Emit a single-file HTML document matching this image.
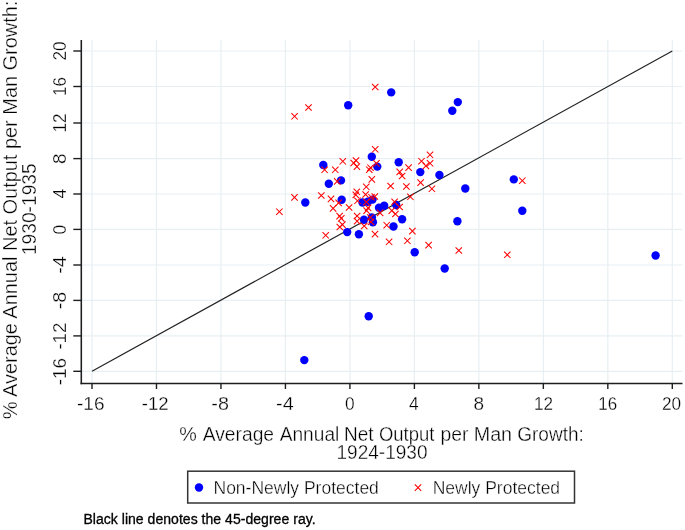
<!DOCTYPE html>
<html><head><meta charset="utf-8"><style>
html,body{margin:0;padding:0;background:#fff;width:685px;height:530px;overflow:hidden}
svg{display:block;font-family:"Liberation Sans",sans-serif;fill:#000;will-change:transform}
text{fill:#000}
.thin text,text.th{stroke:#fff;stroke-width:0.35px}
text.th2{stroke:#fff;stroke-width:0.3px}
</style></head><body>
<svg width="685" height="530" viewBox="0 0 685 530">
<rect width="685" height="530" fill="#ffffff"/>
<line x1="92.00" y1="40.0" x2="92.00" y2="383.4" stroke="#e8eff3" stroke-width="1.2"/>
<line x1="81.3" y1="371.30" x2="682.5" y2="371.30" stroke="#e8eff3" stroke-width="1.2"/>
<line x1="156.48" y1="40.0" x2="156.48" y2="383.4" stroke="#e8eff3" stroke-width="1.2"/>
<line x1="81.3" y1="335.90" x2="682.5" y2="335.90" stroke="#e8eff3" stroke-width="1.2"/>
<line x1="220.96" y1="40.0" x2="220.96" y2="383.4" stroke="#e8eff3" stroke-width="1.2"/>
<line x1="81.3" y1="300.40" x2="682.5" y2="300.40" stroke="#e8eff3" stroke-width="1.2"/>
<line x1="285.43" y1="40.0" x2="285.43" y2="383.4" stroke="#e8eff3" stroke-width="1.2"/>
<line x1="81.3" y1="265.00" x2="682.5" y2="265.00" stroke="#e8eff3" stroke-width="1.2"/>
<line x1="349.91" y1="40.0" x2="349.91" y2="383.4" stroke="#e8eff3" stroke-width="1.2"/>
<line x1="81.3" y1="229.40" x2="682.5" y2="229.40" stroke="#e8eff3" stroke-width="1.2"/>
<line x1="414.39" y1="40.0" x2="414.39" y2="383.4" stroke="#e8eff3" stroke-width="1.2"/>
<line x1="81.3" y1="194.00" x2="682.5" y2="194.00" stroke="#e8eff3" stroke-width="1.2"/>
<line x1="478.87" y1="40.0" x2="478.87" y2="383.4" stroke="#e8eff3" stroke-width="1.2"/>
<line x1="81.3" y1="158.60" x2="682.5" y2="158.60" stroke="#e8eff3" stroke-width="1.2"/>
<line x1="543.34" y1="40.0" x2="543.34" y2="383.4" stroke="#e8eff3" stroke-width="1.2"/>
<line x1="81.3" y1="123.00" x2="682.5" y2="123.00" stroke="#e8eff3" stroke-width="1.2"/>
<line x1="607.82" y1="40.0" x2="607.82" y2="383.4" stroke="#e8eff3" stroke-width="1.2"/>
<line x1="81.3" y1="86.50" x2="682.5" y2="86.50" stroke="#e8eff3" stroke-width="1.2"/>
<line x1="672.30" y1="40.0" x2="672.30" y2="383.4" stroke="#e8eff3" stroke-width="1.2"/>
<line x1="81.3" y1="51.00" x2="682.5" y2="51.00" stroke="#e8eff3" stroke-width="1.2"/>
<line x1="92.00" y1="371.30" x2="672.30" y2="51.00" stroke="#222" stroke-width="1.2"/>
<circle cx="348.2" cy="105.3" r="4.2" fill="#0000ff"/>
<circle cx="391.2" cy="92.4" r="4.2" fill="#0000ff"/>
<circle cx="457.8" cy="102.1" r="4.2" fill="#0000ff"/>
<circle cx="452.3" cy="110.8" r="4.2" fill="#0000ff"/>
<circle cx="323.3" cy="165.0" r="4.2" fill="#0000ff"/>
<circle cx="328.8" cy="183.7" r="4.2" fill="#0000ff"/>
<circle cx="341.0" cy="180.4" r="4.2" fill="#0000ff"/>
<circle cx="371.8" cy="156.7" r="4.2" fill="#0000ff"/>
<circle cx="377.3" cy="166.6" r="4.2" fill="#0000ff"/>
<circle cx="398.7" cy="162.3" r="4.2" fill="#0000ff"/>
<circle cx="420.3" cy="172.1" r="4.2" fill="#0000ff"/>
<circle cx="439.4" cy="175.0" r="4.2" fill="#0000ff"/>
<circle cx="465.3" cy="188.5" r="4.2" fill="#0000ff"/>
<circle cx="513.8" cy="179.4" r="4.2" fill="#0000ff"/>
<circle cx="522.3" cy="210.7" r="4.2" fill="#0000ff"/>
<circle cx="305.3" cy="202.5" r="4.2" fill="#0000ff"/>
<circle cx="341.7" cy="199.8" r="4.2" fill="#0000ff"/>
<circle cx="362.5" cy="202.5" r="4.2" fill="#0000ff"/>
<circle cx="367.8" cy="201.8" r="4.2" fill="#0000ff"/>
<circle cx="372.5" cy="199.6" r="4.2" fill="#0000ff"/>
<circle cx="379.0" cy="207.8" r="4.2" fill="#0000ff"/>
<circle cx="384.2" cy="205.8" r="4.2" fill="#0000ff"/>
<circle cx="396.2" cy="205.0" r="4.2" fill="#0000ff"/>
<circle cx="364.0" cy="219.8" r="4.2" fill="#0000ff"/>
<circle cx="371.9" cy="217.5" r="4.2" fill="#0000ff"/>
<circle cx="372.9" cy="222.2" r="4.2" fill="#0000ff"/>
<circle cx="393.5" cy="226.5" r="4.2" fill="#0000ff"/>
<circle cx="402.1" cy="219.2" r="4.2" fill="#0000ff"/>
<circle cx="347.2" cy="232.1" r="4.2" fill="#0000ff"/>
<circle cx="358.9" cy="234.3" r="4.2" fill="#0000ff"/>
<circle cx="414.7" cy="252.3" r="4.2" fill="#0000ff"/>
<circle cx="444.7" cy="268.5" r="4.2" fill="#0000ff"/>
<circle cx="457.4" cy="221.3" r="4.2" fill="#0000ff"/>
<circle cx="655.6" cy="255.5" r="4.2" fill="#0000ff"/>
<circle cx="368.7" cy="316.2" r="4.2" fill="#0000ff"/>
<circle cx="304.3" cy="360.1" r="4.2" fill="#0000ff"/>
<path d="M291.4 113.1L297.8 119.5M291.4 119.5L297.8 113.1" stroke="#ff0000" stroke-width="1.05" fill="none"/>
<path d="M305.3 104.3L311.7 110.7M305.3 110.7L311.7 104.3" stroke="#ff0000" stroke-width="1.05" fill="none"/>
<path d="M372.0 83.8L378.4 90.2M372.0 90.2L378.4 83.8" stroke="#ff0000" stroke-width="1.05" fill="none"/>
<path d="M321.4 166.6L327.8 173.0M321.4 173.0L327.8 166.6" stroke="#ff0000" stroke-width="1.05" fill="none"/>
<path d="M332.1 166.6L338.5 173.0M332.1 173.0L338.5 166.6" stroke="#ff0000" stroke-width="1.05" fill="none"/>
<path d="M339.6 158.1L346.0 164.5M339.6 164.5L346.0 158.1" stroke="#ff0000" stroke-width="1.05" fill="none"/>
<path d="M352.8 157.3L359.2 163.7M352.8 163.7L359.2 157.3" stroke="#ff0000" stroke-width="1.05" fill="none"/>
<path d="M350.5 159.8L356.9 166.2M350.5 166.2L356.9 159.8" stroke="#ff0000" stroke-width="1.05" fill="none"/>
<path d="M353.7 163.4L360.1 169.8M353.7 169.8L360.1 163.4" stroke="#ff0000" stroke-width="1.05" fill="none"/>
<path d="M372.0 146.1L378.4 152.5M372.0 152.5L378.4 146.1" stroke="#ff0000" stroke-width="1.05" fill="none"/>
<path d="M373.2 160.2L379.6 166.6M373.2 166.6L379.6 160.2" stroke="#ff0000" stroke-width="1.05" fill="none"/>
<path d="M367.3 164.5L373.7 170.9M367.3 170.9L373.7 164.5" stroke="#ff0000" stroke-width="1.05" fill="none"/>
<path d="M366.1 166.5L372.5 172.9M366.1 172.9L372.5 166.5" stroke="#ff0000" stroke-width="1.05" fill="none"/>
<path d="M368.6 176.2L375.0 182.6M368.6 182.6L375.0 176.2" stroke="#ff0000" stroke-width="1.05" fill="none"/>
<path d="M334.0 178.2L340.4 184.6M334.0 184.6L340.4 178.2" stroke="#ff0000" stroke-width="1.05" fill="none"/>
<path d="M363.1 183.6L369.5 190.0M363.1 190.0L369.5 183.6" stroke="#ff0000" stroke-width="1.05" fill="none"/>
<path d="M387.4 182.8L393.8 189.2M387.4 189.2L393.8 182.8" stroke="#ff0000" stroke-width="1.05" fill="none"/>
<path d="M403.2 183.3L409.6 189.7M403.2 189.7L409.6 183.3" stroke="#ff0000" stroke-width="1.05" fill="none"/>
<path d="M405.4 164.4L411.8 170.8M405.4 170.8L411.8 164.4" stroke="#ff0000" stroke-width="1.05" fill="none"/>
<path d="M396.5 168.7L402.9 175.1M396.5 175.1L402.9 168.7" stroke="#ff0000" stroke-width="1.05" fill="none"/>
<path d="M398.9 172.8L405.3 179.2M398.9 179.2L405.3 172.8" stroke="#ff0000" stroke-width="1.05" fill="none"/>
<path d="M418.3 158.0L424.7 164.4M418.3 164.4L424.7 158.0" stroke="#ff0000" stroke-width="1.05" fill="none"/>
<path d="M426.8 151.6L433.2 158.0M426.8 158.0L433.2 151.6" stroke="#ff0000" stroke-width="1.05" fill="none"/>
<path d="M426.9 160.1L433.3 166.5M426.9 166.5L433.3 160.1" stroke="#ff0000" stroke-width="1.05" fill="none"/>
<path d="M422.7 162.7L429.1 169.1M422.7 169.1L429.1 162.7" stroke="#ff0000" stroke-width="1.05" fill="none"/>
<path d="M417.4 179.4L423.8 185.8M417.4 185.8L423.8 179.4" stroke="#ff0000" stroke-width="1.05" fill="none"/>
<path d="M428.7 185.6L435.1 192.0M428.7 192.0L435.1 185.6" stroke="#ff0000" stroke-width="1.05" fill="none"/>
<path d="M519.1 177.5L525.5 183.9M519.1 183.9L525.5 177.5" stroke="#ff0000" stroke-width="1.05" fill="none"/>
<path d="M276.2 208.5L282.6 214.9M276.2 214.9L282.6 208.5" stroke="#ff0000" stroke-width="1.05" fill="none"/>
<path d="M291.3 194.2L297.7 200.6M291.3 200.6L297.7 194.2" stroke="#ff0000" stroke-width="1.05" fill="none"/>
<path d="M318.1 192.3L324.5 198.7M318.1 198.7L324.5 192.3" stroke="#ff0000" stroke-width="1.05" fill="none"/>
<path d="M327.8 195.7L334.2 202.1M327.8 202.1L334.2 195.7" stroke="#ff0000" stroke-width="1.05" fill="none"/>
<path d="M335.4 199.7L341.8 206.1M335.4 206.1L341.8 199.7" stroke="#ff0000" stroke-width="1.05" fill="none"/>
<path d="M329.9 205.2L336.3 211.6M329.9 211.6L336.3 205.2" stroke="#ff0000" stroke-width="1.05" fill="none"/>
<path d="M345.9 204.3L352.3 210.7M345.9 210.7L352.3 204.3" stroke="#ff0000" stroke-width="1.05" fill="none"/>
<path d="M336.4 212.9L342.8 219.3M336.4 219.3L342.8 212.9" stroke="#ff0000" stroke-width="1.05" fill="none"/>
<path d="M338.1 215.2L344.5 221.6M338.1 221.6L344.5 215.2" stroke="#ff0000" stroke-width="1.05" fill="none"/>
<path d="M339.2 221.4L345.6 227.8M339.2 227.8L345.6 221.4" stroke="#ff0000" stroke-width="1.05" fill="none"/>
<path d="M336.6 223.8L343.0 230.2M336.6 230.2L343.0 223.8" stroke="#ff0000" stroke-width="1.05" fill="none"/>
<path d="M353.6 188.6L360.0 195.0M353.6 195.0L360.0 188.6" stroke="#ff0000" stroke-width="1.05" fill="none"/>
<path d="M352.6 191.7L359.0 198.1M352.6 198.1L359.0 191.7" stroke="#ff0000" stroke-width="1.05" fill="none"/>
<path d="M354.3 197.6L360.7 204.0M354.3 204.0L360.7 197.6" stroke="#ff0000" stroke-width="1.05" fill="none"/>
<path d="M362.4 191.3L368.8 197.7M362.4 197.7L368.8 191.3" stroke="#ff0000" stroke-width="1.05" fill="none"/>
<path d="M363.1 198.8L369.5 205.2M363.1 205.2L369.5 198.8" stroke="#ff0000" stroke-width="1.05" fill="none"/>
<path d="M368.3 194.0L374.7 200.4M368.3 200.4L374.7 194.0" stroke="#ff0000" stroke-width="1.05" fill="none"/>
<path d="M371.6 193.3L378.0 199.7M371.6 199.7L378.0 193.3" stroke="#ff0000" stroke-width="1.05" fill="none"/>
<path d="M364.9 204.7L371.3 211.1M364.9 211.1L371.3 204.7" stroke="#ff0000" stroke-width="1.05" fill="none"/>
<path d="M363.4 207.4L369.8 213.8M363.4 213.8L369.8 207.4" stroke="#ff0000" stroke-width="1.05" fill="none"/>
<path d="M376.9 209.7L383.3 216.1M376.9 216.1L383.3 209.7" stroke="#ff0000" stroke-width="1.05" fill="none"/>
<path d="M353.9 212.8L360.3 219.2M353.9 219.2L360.3 212.8" stroke="#ff0000" stroke-width="1.05" fill="none"/>
<path d="M353.9 217.9L360.3 224.3M353.9 224.3L360.3 217.9" stroke="#ff0000" stroke-width="1.05" fill="none"/>
<path d="M361.0 222.8L367.4 229.2M361.0 229.2L367.4 222.8" stroke="#ff0000" stroke-width="1.05" fill="none"/>
<path d="M367.2 214.3L373.6 220.7M367.2 220.7L373.6 214.3" stroke="#ff0000" stroke-width="1.05" fill="none"/>
<path d="M367.8 218.7L374.2 225.1M367.8 225.1L374.2 218.7" stroke="#ff0000" stroke-width="1.05" fill="none"/>
<path d="M383.5 222.0L389.9 228.4M383.5 228.4L389.9 222.0" stroke="#ff0000" stroke-width="1.05" fill="none"/>
<path d="M388.6 207.4L395.0 213.8M388.6 213.8L395.0 207.4" stroke="#ff0000" stroke-width="1.05" fill="none"/>
<path d="M392.2 210.8L398.6 217.2M392.2 217.2L398.6 210.8" stroke="#ff0000" stroke-width="1.05" fill="none"/>
<path d="M391.4 198.7L397.8 205.1M391.4 205.1L397.8 198.7" stroke="#ff0000" stroke-width="1.05" fill="none"/>
<path d="M396.5 203.8L402.9 210.2M396.5 210.2L402.9 203.8" stroke="#ff0000" stroke-width="1.05" fill="none"/>
<path d="M407.2 193.6L413.6 200.0M407.2 200.0L413.6 193.6" stroke="#ff0000" stroke-width="1.05" fill="none"/>
<path d="M409.2 227.9L415.6 234.3M409.2 234.3L415.6 227.9" stroke="#ff0000" stroke-width="1.05" fill="none"/>
<path d="M385.9 238.6L392.3 245.0M385.9 245.0L392.3 238.6" stroke="#ff0000" stroke-width="1.05" fill="none"/>
<path d="M404.2 237.6L410.6 244.0M404.2 244.0L410.6 237.6" stroke="#ff0000" stroke-width="1.05" fill="none"/>
<path d="M425.4 241.9L431.8 248.3M425.4 248.3L431.8 241.9" stroke="#ff0000" stroke-width="1.05" fill="none"/>
<path d="M455.6 247.3L462.0 253.7M455.6 253.7L462.0 247.3" stroke="#ff0000" stroke-width="1.05" fill="none"/>
<path d="M504.1 251.6L510.5 258.0M504.1 258.0L510.5 251.6" stroke="#ff0000" stroke-width="1.05" fill="none"/>
<path d="M371.8 230.9L378.2 237.3M371.8 237.3L378.2 230.9" stroke="#ff0000" stroke-width="1.05" fill="none"/>
<path d="M322.5 232.1L328.9 238.5M322.5 238.5L328.9 232.1" stroke="#ff0000" stroke-width="1.05" fill="none"/>
<line x1="81.3" y1="40.0" x2="81.3" y2="384.15" stroke="#1e1e1e" stroke-width="1.55"/>
<line x1="80.55" y1="383.4" x2="682.5" y2="383.4" stroke="#1e1e1e" stroke-width="1.55"/>
<line x1="92.00" y1="383.4" x2="92.00" y2="389.0" stroke="#1e1e1e" stroke-width="1.4"/>
<text x="77.00" y="409.6" font-size="19" textLength="27.47" lengthAdjust="spacingAndGlyphs" class="th2">-16</text>
<line x1="73.3" y1="371.30" x2="81.3" y2="371.30" stroke="#1e1e1e" stroke-width="1.4"/>
<text class="th2" transform="translate(65.6 385.30) rotate(-90)" font-size="19" textLength="27.47" lengthAdjust="spacingAndGlyphs">-16</text>
<line x1="156.48" y1="383.4" x2="156.48" y2="389.0" stroke="#1e1e1e" stroke-width="1.4"/>
<text x="141.82" y="409.6" font-size="19" textLength="26.83" lengthAdjust="spacingAndGlyphs" class="th2">-12</text>
<line x1="73.3" y1="335.90" x2="81.3" y2="335.90" stroke="#1e1e1e" stroke-width="1.4"/>
<text class="th2" transform="translate(65.6 349.58) rotate(-90)" font-size="19" textLength="26.83" lengthAdjust="spacingAndGlyphs">-12</text>
<line x1="220.96" y1="383.4" x2="220.96" y2="389.0" stroke="#1e1e1e" stroke-width="1.4"/>
<text x="211.36" y="409.6" font-size="19" textLength="17.58" lengthAdjust="spacingAndGlyphs" class="th2">-8</text>
<line x1="73.3" y1="300.40" x2="81.3" y2="300.40" stroke="#1e1e1e" stroke-width="1.4"/>
<text class="th2" transform="translate(65.6 309.24) rotate(-90)" font-size="19" textLength="17.58" lengthAdjust="spacingAndGlyphs">-8</text>
<line x1="285.43" y1="383.4" x2="285.43" y2="389.0" stroke="#1e1e1e" stroke-width="1.4"/>
<text x="276.06" y="409.6" font-size="19" textLength="17.58" lengthAdjust="spacingAndGlyphs" class="th2">-4</text>
<line x1="73.3" y1="265.00" x2="81.3" y2="265.00" stroke="#1e1e1e" stroke-width="1.4"/>
<text class="th2" transform="translate(65.6 273.84) rotate(-90)" font-size="19" textLength="17.58" lengthAdjust="spacingAndGlyphs">-4</text>
<line x1="349.91" y1="383.4" x2="349.91" y2="389.0" stroke="#1e1e1e" stroke-width="1.4"/>
<text x="344.99" y="409.6" font-size="19" textLength="9.64" lengthAdjust="spacingAndGlyphs" class="th2">0</text>
<line x1="73.3" y1="229.40" x2="81.3" y2="229.40" stroke="#1e1e1e" stroke-width="1.4"/>
<text class="th2" transform="translate(65.6 234.41) rotate(-90)" font-size="19" textLength="9.64" lengthAdjust="spacingAndGlyphs">0</text>
<line x1="414.39" y1="383.4" x2="414.39" y2="389.0" stroke="#1e1e1e" stroke-width="1.4"/>
<text x="409.00" y="409.6" font-size="19" textLength="9.73" lengthAdjust="spacingAndGlyphs" class="th2">4</text>
<line x1="73.3" y1="194.00" x2="81.3" y2="194.00" stroke="#1e1e1e" stroke-width="1.4"/>
<text class="th2" transform="translate(65.6 198.60) rotate(-90)" font-size="19" textLength="9.73" lengthAdjust="spacingAndGlyphs">4</text>
<line x1="478.87" y1="383.4" x2="478.87" y2="389.0" stroke="#1e1e1e" stroke-width="1.4"/>
<text x="473.50" y="409.6" font-size="19" textLength="10.58" lengthAdjust="spacingAndGlyphs" class="th2">8</text>
<line x1="73.3" y1="158.60" x2="81.3" y2="158.60" stroke="#1e1e1e" stroke-width="1.4"/>
<text class="th2" transform="translate(65.6 164.10) rotate(-90)" font-size="19" textLength="10.58" lengthAdjust="spacingAndGlyphs">8</text>
<line x1="543.34" y1="383.4" x2="543.34" y2="389.0" stroke="#1e1e1e" stroke-width="1.4"/>
<text x="534.00" y="409.6" font-size="19" textLength="19.03" lengthAdjust="spacingAndGlyphs" class="th2">12</text>
<line x1="73.3" y1="123.00" x2="81.3" y2="123.00" stroke="#1e1e1e" stroke-width="1.4"/>
<text class="th2" transform="translate(65.6 132.45) rotate(-90)" font-size="19" textLength="19.03" lengthAdjust="spacingAndGlyphs">12</text>
<line x1="607.82" y1="383.4" x2="607.82" y2="389.0" stroke="#1e1e1e" stroke-width="1.4"/>
<text x="598.31" y="409.6" font-size="19" textLength="18.92" lengthAdjust="spacingAndGlyphs" class="th2">16</text>
<line x1="73.3" y1="86.50" x2="81.3" y2="86.50" stroke="#1e1e1e" stroke-width="1.4"/>
<text class="th2" transform="translate(65.6 95.89) rotate(-90)" font-size="19" textLength="18.92" lengthAdjust="spacingAndGlyphs">16</text>
<line x1="672.30" y1="383.4" x2="672.30" y2="389.0" stroke="#1e1e1e" stroke-width="1.4"/>
<text x="661.89" y="409.6" font-size="19" textLength="19.14" lengthAdjust="spacingAndGlyphs" class="th2">20</text>
<line x1="73.3" y1="51.00" x2="81.3" y2="51.00" stroke="#1e1e1e" stroke-width="1.4"/>
<text class="th2" transform="translate(65.6 60.51) rotate(-90)" font-size="19" textLength="19.14" lengthAdjust="spacingAndGlyphs">20</text>
<g class="thin">
<text transform="translate(16.7 209.85) rotate(-90)" font-size="20" text-anchor="middle" textLength="418.6" lengthAdjust="spacing">% Average Annual Net Output per Man Growth:</text>
<text transform="translate(35.5 255.12) rotate(-90)" font-size="20" textLength="91.85" lengthAdjust="spacingAndGlyphs">1930-1935</text>
</g>
<g class="thin">
<text x="179.31" y="440.8" font-size="20" textLength="17.57" lengthAdjust="spacingAndGlyphs">%</text>
<text x="202.70" y="440.8" font-size="20" textLength="71.40" lengthAdjust="spacingAndGlyphs">Average</text>
<text x="279.70" y="440.8" font-size="20" textLength="59.63" lengthAdjust="spacingAndGlyphs">Annual</text>
<text x="344.00" y="440.8" font-size="20" textLength="29.62" lengthAdjust="spacingAndGlyphs">Net</text>
<text x="378.98" y="440.8" font-size="20" textLength="55.47" lengthAdjust="spacingAndGlyphs">Output</text>
<text x="440.43" y="440.8" font-size="20" textLength="27.98" lengthAdjust="spacingAndGlyphs">per</text>
<text x="473.73" y="440.8" font-size="20" textLength="38.37" lengthAdjust="spacingAndGlyphs">Man</text>
<text x="517.25" y="440.8" font-size="20" textLength="66.58" lengthAdjust="spacingAndGlyphs">Growth:</text>
<text x="336.50" y="459" font-size="20" textLength="91.03" lengthAdjust="spacingAndGlyphs">1924-1930</text>
</g>
<rect x="187.7" y="471.2" width="386.8" height="31.8" fill="#fff" stroke="#333" stroke-width="1.5"/>
<circle cx="199" cy="487.5" r="4.2" fill="#0000ff"/>
<text class="th" x="213.5" y="493.9" font-size="17.5">Non-Newly Protected</text>
<path d="M414.8 484.40000000000003L421.2 490.8M414.8 490.8L421.2 484.40000000000003" stroke="#ff0000" stroke-width="1.05"/>
<text class="th" x="432.7" y="493.9" font-size="17.5">Newly Protected</text>
<text x="83.4" y="524" font-size="14" textLength="232.2" lengthAdjust="spacing" style="stroke:#000;stroke-width:0.3px">Black line denotes the 45-degree ray.</text>
</svg>
</body></html>
